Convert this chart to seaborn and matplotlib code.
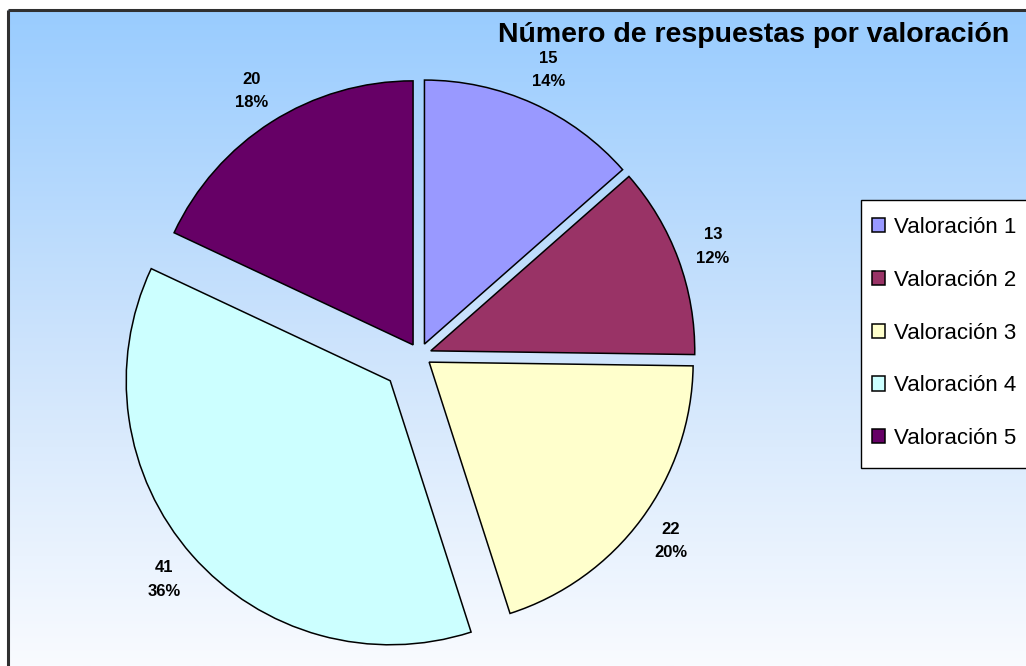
import numpy as np
import matplotlib
matplotlib.use("Agg")
import matplotlib.pyplot as plt
import seaborn as sns
from matplotlib.colors import LinearSegmentedColormap
from matplotlib.patches import Rectangle

# ---- data ----
categories = ["Valoración 1", "Valoración 2", "Valoración 3", "Valoración 4", "Valoración 5"]
counts = [15, 13, 22, 41, 20]
percent_labels = ["14%", "12%", "20%", "36%", "18%"]
title = "Número de respuestas por valoración"

# ---- style ----
sns.set_theme(style="white")
plt.rcParams["font.family"] = ["Liberation Sans", "DejaVu Sans"]
plt.rcParams["text.color"] = "black"
colors = sns.color_palette(["#9999FF", "#993366", "#FFFFCC", "#CCFFFF", "#660066"])

W, H = 1026, 666
fig = plt.figure(figsize=(W / 100, H / 100), dpi=100)
fig.patch.set_facecolor("white")
ax = fig.add_axes([0, 0, 1, 1])

# gradient background of chart area
grad = np.linspace(0, 1, 256).reshape(-1, 1)
cmap = LinearSegmentedColormap.from_list("bg", ["#99CCFF", "#CCE3FC", "#F9FBFF"])
ax.imshow(grad, aspect="auto", cmap=cmap, extent=[8, W + 5, 0, H - 10], origin="upper", zorder=0)
ax.plot([8, 8], [-5, H - 10], color="#303030", lw=2.2, zorder=1, solid_capstyle="butt")
ax.plot([8, W + 5], [H - 10, H - 10], color="#303030", lw=2.2, zorder=1, solid_capstyle="butt")

# pie (explode offsets in data units = pixels)
explode = [12, 12, 12, 39, 12]
labels = [f"{c}\n{p}" for c, p in zip(counts, percent_labels)]
wedges, texts = ax.pie(
    counts,
    labels=labels,
    colors=colors,
    explode=explode,
    startangle=90,
    counterclock=False,
    center=(419.5, H - 355),
    radius=264,
    labeldistance=1.14,
    wedgeprops=dict(edgecolor="black", linewidth=1.1),
    textprops=dict(fontsize=12, fontweight="bold", color="black", ha="center",
                   va="center", multialignment="center", linespacing=1.7),
    frame=True,
)
for w in wedges:
    w.set_zorder(2)
for t in texts:
    t.set_zorder(3)
ax.set_xlim(0, W)
ax.set_ylim(0, H)
ax.set_aspect("equal")
ax.axis("off")

ax.text(754, H - 35, title, fontsize=20.5, fontweight="bold", color="black",
        ha="center", va="center", zorder=4)

# legend box
ax.add_patch(Rectangle((861, H - 468), 200, 268, facecolor="white", edgecolor="black",
                       linewidth=1.0, zorder=4.5, clip_on=False))
leg = ax.legend(
    wedges, categories,
    loc="upper left", bbox_to_anchor=(872, H - 217), bbox_transform=ax.transData,
    frameon=False, fontsize=16,
    handlelength=0.6, handleheight=0.6, handletextpad=0.4,
    labelspacing=1.43, borderpad=0, borderaxespad=0,
)
for t in leg.get_texts():
    t.set_color("black")
leg.set_zorder(5)

fig.savefig("out.png", dpi=100)
